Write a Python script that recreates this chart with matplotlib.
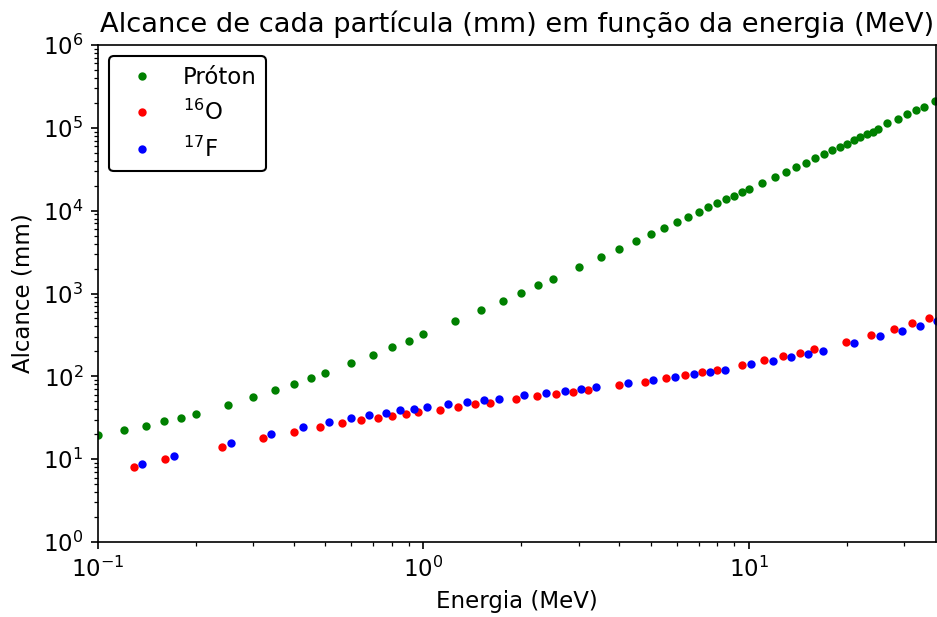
import matplotlib
matplotlib.use("Agg")
import matplotlib.pyplot as plt

# Proton
proton_E = [0.1, 0.12, 0.14, 0.16, 0.18, 0.2, 0.25, 0.3, 0.35, 0.4, 0.45, 0.5,
            0.6, 0.7, 0.8, 0.9, 1.0, 1.25, 1.5, 1.75, 2.0, 2.25, 2.5, 3.0, 3.5,
            4.0, 4.5, 5.0, 5.5, 6.0, 6.5, 7.0, 7.5, 8.0, 8.5, 9.0, 9.5, 10,
            11, 12, 13, 14, 15, 16, 17, 18, 19, 20, 21, 22, 23, 24, 25,
            26.6, 28.7, 30.5, 32.6, 34.5, 37.3]
proton_R = [19.6, 22.5, 25.1, 28.9, 31.7, 35.4, 45.5, 55.9, 68.4, 80.2, 94.8, 110.8,
            145, 182.5, 224, 267, 322, 462, 627, 805, 1023, 1256, 1510, 2071, 2781,
            3474, 4305, 5275, 6180, 7245, 8324, 9556, 10980, 12280, 13720, 15040, 16820, 18420,
            21570, 25280, 29560, 33980, 37950, 42870, 47930, 53580, 58740, 64400, 70730,
            77560, 84380, 89930, 96900,
            113500, 126800, 145800, 162800, 180000, 211000]

# 16O
o16_E = [0.129, 0.161, 0.241, 0.3215, 0.401, 0.482, 0.561, 0.642, 0.724, 0.803,
         0.883, 0.961, 1.122, 1.281, 1.439, 1.600, 1.923, 2.232, 2.553, 2.886,
         3.202, 3.988, 4.792, 5.574, 6.363, 7.155, 7.978, 9.544, 11.15, 12.73,
         14.31, 15.89, 19.89, 23.78, 27.83, 31.79, 35.68]
o16_R = [8.11, 9.96, 14.0, 18.0, 21.5, 24.7, 27.1, 29.5, 31.7, 33.2,
         35.1, 37.1, 39.6, 42.6, 46.0, 47.6, 53.2, 57.4, 61.2, 65.3,
         68.4, 78.6, 86.2, 96.3, 103.8, 112.8, 120.9, 138.3, 156.3, 175.1,
         191.3, 213.9, 262, 314, 376, 443, 506]

# 17F
f17_E = [0.1368, 0.1713, 0.257, 0.341, 0.427, 0.512, 0.598, 0.682, 0.766, 0.850,
         0.938, 1.024, 1.188, 1.36, 1.533, 1.705, 2.04, 2.38, 2.721, 3.058,
         3.388, 4.243, 5.082, 5.937, 6.780, 7.617, 8.462, 10.17, 11.82, 13.50,
         15.15, 16.90, 21.09, 25.22, 29.47, 33.64, 37.76]
f17_R = [8.67, 10.9, 15.7, 20.1, 24.7, 28.3, 31.1, 34.1, 36.4, 38.9,
         40.7, 42.6, 46.0, 49.0, 51.4, 53.2, 59.0, 62.9, 67.1, 70.3,
         73.8, 82.4, 90.3, 99.0, 105.9, 112.8, 120.9, 139, 152, 170.3,
         186, 204, 250.6, 303, 352, 405, 463]

W, H = 937, 617
fig = plt.figure(figsize=(W / 150, H / 150), dpi=150)
ax = fig.add_axes([98 / W, 75 / H, (936.5 - 98) / W, 497 / H])

ax.plot(proton_E, proton_R, '.', color='g', label='Próton')
ax.plot(o16_E, o16_R, '.', color='r', label=r'$^{16}$O')
ax.plot(f17_E, f17_R, '.', color='b', label=r'$^{17}$F')

ax.set_xscale('log')
ax.set_yscale('log')
ax.set_xlim(0.1, 37.7)
ax.set_ylim(1, 1e6)

ax.set_title('Alcance de cada partícula (mm) em função da energia (MeV)', fontsize=13.1)
ax.set_xlabel('Energia (MeV)', fontsize=11)
ax.set_ylabel('Alcance (mm)', fontsize=11)
ax.tick_params(labelsize=11)

leg = ax.legend(loc='upper left', fontsize=11, edgecolor='black', framealpha=1)

fig.savefig('out.png', dpi=150)
